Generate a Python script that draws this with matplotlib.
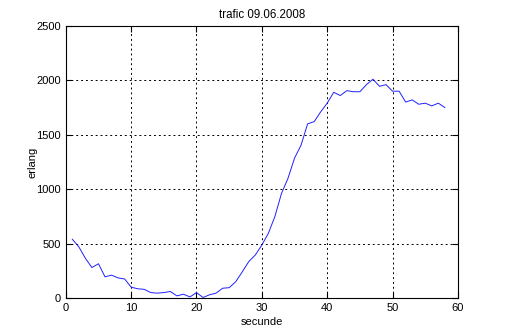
import matplotlib.pyplot as plt

plt.rcParams['font.family'] = ['Liberation Sans', 'DejaVu Sans']

sec = list(range(1, 59))
erlang = [540, 470, 365, 280, 315, 195, 210, 185, 175, 100,
          85, 80, 50, 45, 50, 60, 20, 35, 10, 50,
          5, 30, 45, 90, 95, 150, 240, 335, 395, 487,
          595, 750, 960, 1100, 1285, 1405, 1600, 1620, 1710, 1790,
          1890, 1860, 1905, 1895, 1895, 1960, 2010, 1945, 1960, 1900,
          1900, 1800, 1820, 1780, 1790, 1765, 1790, 1750]

fig = plt.figure(figsize=(5.06, 3.36), dpi=100)
ax = fig.add_axes([0.130, 0.113, 0.775, 0.810])
ax.plot(sec, erlang, color='#2020ff', lw=0.7)
ax.set_xlim(0, 60)
ax.set_ylim(0, 2500)
ax.set_xticks(range(0, 61, 10))
ax.set_yticks(range(0, 2501, 500))
ax.grid(True, color='black', linestyle=(0, (2, 3)), lw=0.7)
ax.tick_params(direction='in', top=True, right=True, labelsize=8, length=4)
ax.set_xlabel('secunde', fontsize=8, labelpad=3)
ax.set_ylabel('erlang', fontsize=8, labelpad=-1)
ax.set_title('trafic 09.06.2008', fontsize=8.3, pad=6)
fig.savefig('out.png', dpi=100)
